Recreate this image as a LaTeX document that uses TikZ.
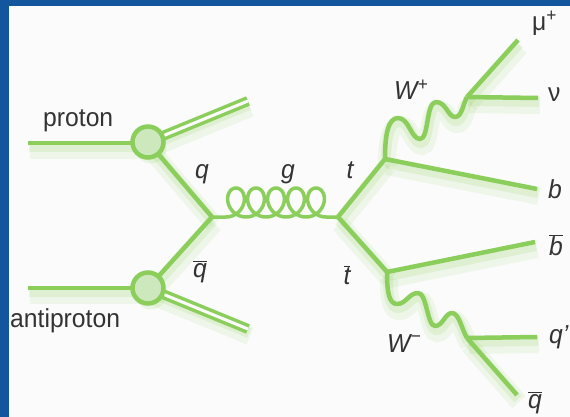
\documentclass[tikz,border=0pt]{standalone}
\usepackage{fontspec}
\setmainfont{Liberation Sans}[FakeStretch=0.95]
\usepackage{tikz}

\definecolor{bgblue}{RGB}{18,86,158}
\definecolor{panel}{RGB}{250,251,250}
\definecolor{lgreen}{RGB}{140,206,92}
\definecolor{blobfill}{RGB}{206,232,190}
\definecolor{inkgray}{RGB}{51,51,51}

% italic letter with a bar (antiparticles)
\newcommand{\barit}[1]{$\overline{\mbox{\itshape #1}}$}

\begin{document}
\begin{tikzpicture}[x=1pt, y=-1pt,
        glow_style/.style={
            preaction={draw=lgreen, line width=18pt, opacity=0.10, transform canvas={shift={(2pt,-7pt)}}},
            preaction={draw=lgreen, line width=10pt, opacity=0.16, transform canvas={shift={(1pt,-4pt)}}}},
        quark_style/.style={draw=lgreen, line width=4.5pt, glow_style},
        remnant_style/.style={draw=lgreen, line width=10pt, glow_style, postaction={draw=panel, line width=3pt}},
        gluon_style/.style={draw=lgreen, line width=3.5pt, line join=round},
        wboson_style/.style={draw=lgreen, line width=4.5pt, line join=round, glow_style},
        blob_style/.style={circle, draw=lgreen, line width=4.5pt, fill=blobfill, minimum size=31pt, inner sep=0pt,
            preaction={fill=lgreen, opacity=0.15, transform canvas={shift={(3pt,-6pt)}}}},
        label_style/.style={text=inkgray, font=\fontsize{26}{30}\selectfont, inner sep=0pt, anchor=base},
        name_style/.style={label_style, anchor=base west}]

        \useasboundingbox (0,0) rectangle (570,417);
        \fill [bgblue] (0,0) rectangle (570,417);
        \fill [panel] (9,6) rectangle (570,417);

        % incoming hadrons
        \coordinate (pin) at (28,143);
        \coordinate (pbarin) at (28,288);
        \coordinate (prem) at (248,101);
        \coordinate (pbarrem) at (248,329);
        % vertices
        \coordinate (v1) at (212,217);
        \coordinate (v2) at (338,217);
        \coordinate (vt) at (385,159);
        \coordinate (vtbar) at (387,272);
        \coordinate (vwp) at (467,97);
        \coordinate (vwm) at (467,338);
        % outgoing ends
        \coordinate (emu) at (518,40);
        \coordinate (enu) at (538,98);
        \coordinate (eb) at (537,189);
        \coordinate (ebbar) at (535,242);
        \coordinate (eqp) at (537,337);
        \coordinate (eqbar) at (517,395);

        \draw [remnant_style] (148,142) -- (prem);
        \draw [remnant_style] (148,288) -- (pbarrem);
        \draw [quark_style] (pin) -- (148,143);
        \draw [quark_style] (pbarin) -- (148,288);
        \draw [quark_style] (148,142) -- (v1);
        \draw [quark_style] (148,288) -- (v1);

        \node [blob_style] (pblob) at (148,142) {};
        \node [blob_style] (pbarblob) at (148,288) {};

        % gluon: five curls between the two vertices
        \draw [gluon_style] (v1) -- (226,217)
            -- plot [domain=180:1980, samples=361] ({216+\x/18-13*sin(\x)}, {202.5-14.5*cos(\x)})
            -- (v2);

        \draw [quark_style] (v2) -- (vt);
        \draw [quark_style] (v2) -- (vtbar);
        \draw [quark_style] (vt) -- (eb);
        \draw [quark_style] (vtbar) -- (ebbar);

        % W bosons
        \draw [wboson_style] (vt) .. controls (385,135) and (388,118) .. (398,118)
            .. controls (409,118) and (411,139) .. (420,139)
            .. controls (429,139) and (426,102) .. (436,102)
            .. controls (446,102) and (448,117) .. (455,117)
            .. controls (462,117) and (463,104) .. (vwp);
        \draw [wboson_style] (vtbar) .. controls (387,292) and (389,304) .. (397,304)
            .. controls (406,304) and (409,293) .. (418,293)
            .. controls (427,293) and (427,326) .. (435,326)
            .. controls (443,326) and (445,313) .. (452,313)
            .. controls (459,313) and (462,330) .. (vwm);

        \draw [quark_style] (vwp) -- (emu);
        \draw [quark_style] (vwp) -- (enu);
        \draw [quark_style] (vwm) -- (eqp);
        \draw [quark_style] (vwm) -- (eqbar);

        % labels
        \node [name_style] (lp) at (43,127) {proton};
        \node [name_style] (lpbar) at (10,327) {antiproton};
        \node [label_style] (lq) at (202,178) {\itshape q};
        \node [label_style] (lqbar) at (200,277) {\barit{q}};
        \node [label_style] (lg) at (288,178) {\itshape g};
        \node [label_style] (lt) at (350,178) {\itshape t};
        \node [label_style] (ltbar) at (347,284) {\barit{t}};
        \node [name_style] (lwp) at (394,100) {\itshape W\textsuperscript{+}};
        \node [name_style] (lwm) at (387,352) {\itshape W\textsuperscript{−}};
        \node [name_style] (lmu) at (532,31) {μ\textsuperscript{+}};
        \node [name_style] (lnu) at (548,102) {ν};
        \node [name_style] (lb) at (548,198) {\itshape b};
        \node [name_style] (lbbar) at (549,255) {\barit{b}};
        \node [name_style] (lqp) at (549,343) {\itshape q'};
        \node [name_style] (lqbar2) at (528,408) {\barit{q}};
\end{tikzpicture}
\end{document}
